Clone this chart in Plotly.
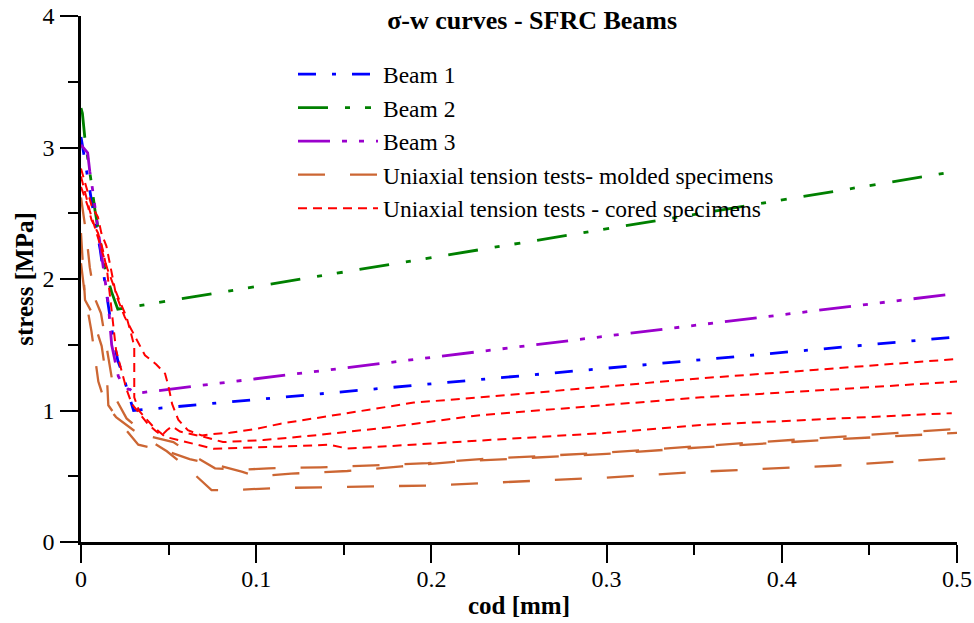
import plotly.graph_objects as go

# ---------------- data ----------------
beam1_x = [0, 0.0006, 0.004, 0.0057, 0.009, 0.011, 0.014, 0.0166, 0.0185, 0.021, 0.024, 0.027, 0.030, 0.5]
beam1_y = [3.08, 3.03, 2.78, 2.62, 2.37, 2.22, 1.94, 1.71, 1.54, 1.38, 1.27, 1.13, 1.00, 1.56]

beam2_x = [0, 0.0008, 0.0023, 0.0042, 0.0057, 0.008, 0.0095, 0.014, 0.0175, 0.021, 0.5]
beam2_y = [3.30, 3.26, 3.06, 2.90, 2.75, 2.52, 2.40, 2.06, 1.90, 1.77, 2.82]

beam3_x = [0, 0.0038, 0.005, 0.0065, 0.0156, 0.0166, 0.0175, 0.0213, 0.023, 0.027, 0.028, 0.031, 0.5]
beam3_y = [3.02, 2.96, 2.82, 2.69, 1.81, 1.61, 1.50, 1.26, 1.22, 1.16, 1.16, 1.13, 1.89]

molded_a_x = [0, 0.0032, 0.005, 0.008, 0.0114, 0.0137, 0.017, 0.0194, 0.026, 0.0375, 0.0527, 0.065, 0.0765,
              0.0917, 0.107, 0.1366, 0.167, 0.198, 0.228, 0.3, 0.354, 0.43, 0.5]
molded_a_y = [2.62, 2.32, 2.09, 1.85, 1.74, 1.56, 1.30, 1.10, 0.94, 0.81, 0.76, 0.65, 0.56,
              0.55, 0.56, 0.568, 0.583, 0.60, 0.63, 0.68, 0.73, 0.80, 0.86]

molded_b_x = [0, 0.0013, 0.0023, 0.006, 0.008, 0.0118, 0.015, 0.0156, 0.024, 0.0327, 0.049, 0.062, 0.0775,
              0.0917, 0.1003, 0.12, 0.152, 0.183, 0.213, 0.3, 0.354, 0.43, 0.5]
molded_b_y = [2.35, 2.02, 1.84, 1.75, 1.65, 1.49, 1.20, 1.04, 0.88, 0.74, 0.69, 0.63, 0.585,
              0.535, 0.50, 0.52, 0.54, 0.575, 0.61, 0.67, 0.72, 0.78, 0.83]

molded_c_x = [0, 0.002, 0.006, 0.008, 0.0099, 0.014, 0.02, 0.03, 0.045, 0.049, 0.061, 0.0717, 0.0745,
              0.086, 0.111, 0.2, 0.3, 0.354, 0.43, 0.5]
molded_c_y = [2.12, 1.90, 1.60, 1.42, 1.22, 1.05, 0.95, 0.85, 0.72, 0.69, 0.56, 0.43, 0.395,
              0.395, 0.41, 0.43, 0.49, 0.535, 0.58, 0.64]

cored_a_x = [0, 0.003, 0.006, 0.0097, 0.0116, 0.0145, 0.0164, 0.018, 0.020, 0.025, 0.027, 0.031, 0.0365,
             0.043, 0.048, 0.050, 0.052, 0.0555, 0.061, 0.069, 0.074, 0.085, 0.1, 0.114, 0.152, 0.19,
             0.228, 0.3, 0.354, 0.42, 0.498]
cored_a_y = [2.84, 2.70, 2.56, 2.47, 2.35, 2.25, 2.12, 1.99, 1.88, 1.71, 1.66, 1.56, 1.42,
             1.35, 1.28, 1.18, 1.05, 0.93, 0.85, 0.81, 0.82, 0.83, 0.86, 0.90, 0.98, 1.06,
             1.10, 1.18, 1.245, 1.31, 1.39]

cored_b_x = [0, 0.004, 0.006, 0.0097, 0.0125, 0.015, 0.0175, 0.0185, 0.020, 0.023, 0.026, 0.029, 0.033,
             0.038, 0.043, 0.046, 0.049, 0.052, 0.0565, 0.07, 0.081, 0.104, 0.1326, 0.171, 0.228,
             0.3, 0.354, 0.43, 0.5]
cored_b_y = [2.70, 2.55, 2.45, 2.35, 2.22, 2.05, 1.76, 1.64, 1.46, 1.31, 1.16, 1.05, 0.98,
             0.90, 0.84, 0.81, 0.85, 0.88, 0.84, 0.80, 0.76, 0.775, 0.81, 0.865, 0.965,
             1.04, 1.10, 1.16, 1.22]

cored_c_x = [0, 0.005, 0.01, 0.015, 0.020, 0.026, 0.0285, 0.0304, 0.0304, 0.033, 0.041, 0.048, 0.0555,
             0.071, 0.0755, 0.1136, 0.142, 0.152, 0.171, 0.228, 0.3, 0.354, 0.43, 0.497]
cored_c_y = [2.78, 2.52, 2.30, 2.08, 1.90, 1.71, 1.59, 1.49, 1.10, 1.00, 0.88, 0.80, 0.775,
             0.725, 0.71, 0.725, 0.74, 0.71, 0.725, 0.775, 0.83, 0.89, 0.94, 0.98]

x_ticks = [0, 0.1, 0.2, 0.3, 0.4, 0.5]
x_tick_labels = ["0", "0.1", "0.2", "0.3", "0.4", "0.5"]
y_ticks = [0, 1, 2, 3, 4]
y_tick_labels = ["0", "1", "2", "3", "4"]

# ---------------- styles ----------------
FONT = "Liberation Serif, Times New Roman, serif"
BLUE, GREEN, PURPLE, BROWN, RED = "#0000FF", "#008000", "#9A00CC", "#CC6633", "#FF0000"

series = [
    ("Beam 1", "b1", [(beam1_x, beam1_y)], BLUE, "18px,16px,4px,16px", 2.8),
    ("Beam 2", "b2", [(beam2_x, beam2_y)], GREEN, "30px,17px,5px,15px,6px,17px", 2.8),
    ("Beam 3", "b3", [(beam3_x, beam3_y)], PURPLE, "32px,12px,5px,12px,5px,12px,5px,12px", 2.8),
    ("Uniaxial tension tests- molded specimens", "m",
     [(molded_a_x, molded_a_y), (molded_b_x, molded_b_y), (molded_c_x, molded_c_y)],
     BROWN, "27px,25px", 2.3),
    ("Uniaxial tension tests - cored specimens", "c",
     [(cored_a_x, cored_a_y), (cored_b_x, cored_b_y), (cored_c_x, cored_c_y)],
     RED, "9px,6px", 2.0),
]

fig = go.Figure()
for name, grp, curves, color, dash, width in series:
    for i, (xs, ys) in enumerate(curves):
        fig.add_trace(go.Scatter(
            x=xs, y=ys, mode="lines", name=name, legendgroup=grp,
            showlegend=(i == 0),
            line=dict(color=color, dash=dash, width=width),
            hoverinfo="skip",
        ))

axis_common = dict(
    showline=True, linecolor="black", linewidth=2.5, mirror=False,
    showgrid=False, zeroline=False, automargin=False,
    ticks="outside", ticklen=18, tickwidth=2, tickcolor="black",
    ticklabeloverflow="allow",
    tickfont=dict(family=FONT, size=24, color="black"),
)

fig.update_layout(
    width=974, height=623,
    margin=dict(l=81, r=17, t=16, b=81),
    paper_bgcolor="white", plot_bgcolor="white",
    font=dict(family=FONT, color="black"),
    title=dict(text="<b>σ-w curves - SFRC Beams</b>", x=0.515, xref="paper", xanchor="center",
               y=0.968, yref="container", yanchor="middle",
               font=dict(family=FONT, size=26, color="black")),
    xaxis=dict(range=[0, 0.5], tickvals=x_ticks, ticktext=x_tick_labels,
               minor=dict(dtick=0.05, ticklen=10, tickwidth=2, tickcolor="black", ticks="outside"),
               ticklabelstandoff=-5,
               title=dict(text="<b>cod [mm]</b>", font=dict(family=FONT, size=25), standoff=6),
               **axis_common),
    yaxis=dict(range=[0, 4], tickvals=y_ticks, ticktext=y_tick_labels,
               minor=dict(dtick=0.5, ticklen=10, tickwidth=2, tickcolor="black", ticks="outside"),
               ticklabelstandoff=1,
               title=dict(text="<b>stress [MPa]</b>", font=dict(family=FONT, size=25), standoff=2),
               **axis_common),
    legend=dict(x=0.242, y=0.931, xanchor="left", yanchor="top",
                font=dict(family=FONT, size=23.5, color="black"),
                bgcolor="rgba(0,0,0,0)", itemwidth=80, tracegroupgap=0,
                traceorder="normal"),
    showlegend=True,
)

# remove the default 8px page margin so the 974x623 figure fills the window exactly
fig.write_html("out.html", config={"displayModeBar": False},
               post_script="document.body.style.margin='0px';")
